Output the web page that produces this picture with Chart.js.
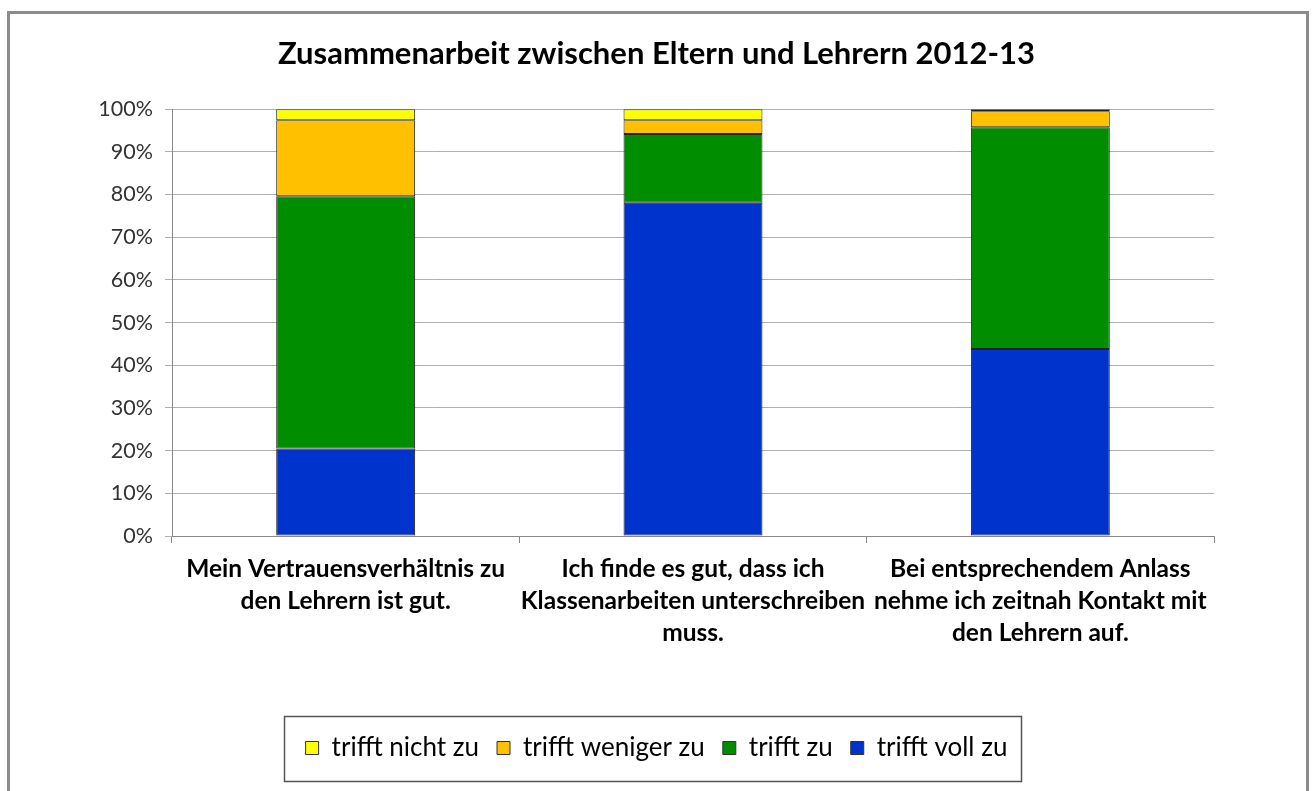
<!DOCTYPE html>
<html>
<head>
<meta charset="utf-8">
<script src="https://cdn.jsdelivr.net/npm/chart.js@4.4.0/dist/chart.umd.min.js"></script>
<style>
html,body{margin:0;padding:0;background:#fff;}
#wrap{width:1313px;height:791px;position:relative;}
</style>
</head>
<body>
<div id="wrap"><canvas id="c" width="1313" height="791"></canvas></div>
<script>
const chartTitle = 'Zusammenarbeit zwischen Eltern und Lehrern 2012-13';
const categories = [
  ['Mein Vertrauensverhältnis zu', 'den Lehrern ist gut.'],
  ['Ich finde es gut, dass ich', 'Klassenarbeiten unterschreiben', 'muss.'],
  ['Bei entsprechendem Anlass', 'nehme ich zeitnah Kontakt mit', 'den Lehrern auf.']
];
const seriesNames = ['trifft voll zu', 'trifft zu', 'trifft weniger zu', 'trifft nicht zu'];
const trifftVollZu = [20.5, 78.1, 43.8];
const trifftZu = [59.1, 16.1, 52.0];
const trifftWenigerZu = [17.8, 3.2, 3.7];
const trifftNichtZu = [2.6, 2.6, 0.5];
const yTicks = [0, 10, 20, 30, 40, 50, 60, 70, 80, 90, 100];

const colors = ['#0033CC', '#008E00', '#FFC000', '#FFFF00'];
const FONT = 'Lato, "Liberation Sans", sans-serif';

const frame = {
  id: 'frame',
  beforeDraw(chart) {
    const ctx = chart.ctx;
    ctx.save();
    ctx.fillStyle = '#fff';
    ctx.fillRect(0, 0, chart.width, chart.height);
    ctx.strokeStyle = '#8c8c8c';
    ctx.lineWidth = 3;
    ctx.strokeRect(8.5, 12.5, 1299, 800);
    ctx.restore();
  },
  afterDraw(chart) {
    const lg = chart.legend;
    if (!lg || !lg.legendHitBoxes || !lg.legendHitBoxes.length) return;
    const hb = lg.legendHitBoxes;
    let l = Infinity, r = -Infinity, cy = 0;
    hb.forEach(b => { l = Math.min(l, b.left); r = Math.max(r, b.left + b.width); cy = b.top + b.height / 2; });
    const ctx = chart.ctx;
    ctx.save();
    ctx.strokeStyle = '#555';
    ctx.lineWidth = 1.5;
    ctx.strokeRect(Math.round(l - 22) + 0.5, Math.round(cy - 32) + 0.5, Math.round(r - l + 35), 65);
    ctx.restore();
  }
};

const datasets = [trifftVollZu, trifftZu, trifftWenigerZu, trifftNichtZu].map((d, i) => ({
  label: seriesNames[i],
  data: d,
  backgroundColor: colors[i],
  borderColor: '#222',
  borderWidth: 1,
  borderSkipped: false,
  barPercentage: 0.4,
  categoryPercentage: 1.0,
  yAxisID: 'y'
}));

new Chart(document.getElementById('c'), {
  type: 'bar',
  data: { labels: categories, datasets },
  options: {
    responsive: false,
    animation: false,
    layout: { padding: { left: 20, right: 20, top: 0, bottom: 20 } },
    plugins: {
      title: {
        display: true,
        text: chartTitle,
        color: '#000',
        font: { family: FONT, size: 31, weight: 'bold', lineHeight: 1.2 },
        padding: { top: 35, bottom: 37 }
      },
      legend: {
        position: 'bottom',
        reverse: true,
        labels: {
          color: '#000',
          font: { family: FONT, size: 26 },
          boxWidth: 13,
          boxHeight: 13,
          padding: 18,
          generateLabels(chart) {
            return chart.data.datasets.map((ds, i) => ({
              text: ds.label,
              fillStyle: ds.backgroundColor,
              strokeStyle: '#333',
              lineWidth: 1,
              datasetIndex: i,
              hidden: false
            }));
          }
        }
      },
      tooltip: { enabled: false }
    },
    scales: {
      x: {
        stacked: true,
        offset: true,
        grid: { display: true, drawOnChartArea: false, drawTicks: true, tickLength: 7, offset: true, color: '#888' },
        border: { display: true, color: '#888', width: 1 },
        ticks: {
          color: '#000',
          font: { family: FONT, size: 24.5, weight: 'bold', lineHeight: 1.3 },
          maxRotation: 0,
          autoSkip: false,
          padding: 10
        },
        afterFit(s) { s.height = 181; }
      },
      y: {
        stacked: true,
        min: 0,
        max: 100,
        afterBuildTicks(s) { s.ticks = yTicks.map(v => ({ value: v })); },
        ticks: {
          color: '#333',
          font: { family: FONT, size: 21.5 },
          padding: 12,
          callback: v => v + '%'
        },
        grid: { color: '#b0b0b0', lineWidth: 1, tickLength: 7, drawTicks: true },
        border: { display: true, color: '#888', width: 1 },
        afterFit(s) { s.width = 152; }
      },
      y2: {
        position: 'right',
        display: true,
        min: 0,
        max: 100,
        ticks: { display: false },
        grid: { display: false, drawTicks: false },
        border: { display: false },
        afterFit(s) { s.width = 79; }
      }
    }
  },
  plugins: [frame]
});
</script>
</body>
</html>
